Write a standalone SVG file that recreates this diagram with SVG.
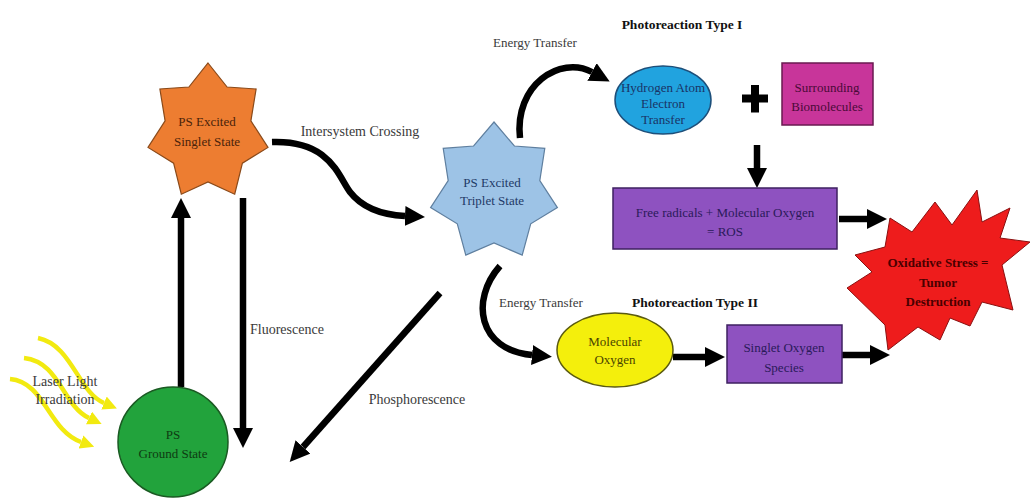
<svg xmlns="http://www.w3.org/2000/svg" width="1030" height="501" viewBox="0 0 1030 501">
<style>
text{font-family:"Liberation Serif","Times New Roman",serif;font-size:13px;text-anchor:middle}
.lbl{fill:#3a3a3a;font-size:14px}
.lbl-s{fill:#3a3a3a;font-size:13px}
.lbl-l{fill:#3a3a3a;text-anchor:start;font-size:14px}
.title{font-weight:bold;fill:#111;font-size:13.5px}
.arrow{fill:none;stroke:#000;stroke-width:6.5}
.yarrow{fill:none;stroke:#f2ea10;stroke-width:4.5}
</style>
<defs>
<marker id="ah" viewBox="0 0 10 10" refX="0" refY="5" markerUnits="userSpaceOnUse" markerWidth="20" markerHeight="20" orient="auto"><path d="M0,0 L10,5 L0,10 z" fill="#000"/></marker>
<marker id="yh" viewBox="0 0 10 10" refX="0" refY="5" markerUnits="userSpaceOnUse" markerWidth="14" markerHeight="14" orient="auto"><path d="M0,0 L10,5 L0,10 z" fill="#f2ea10"/></marker>
</defs>
<rect width="1030" height="501" fill="#fff"/>

<g id="connectors">
<line class="arrow" x1="181" y1="387" x2="181" y2="218" marker-end="url(#ah)"/>
<line class="arrow" x1="243" y1="198" x2="243" y2="428" marker-end="url(#ah)"/>
<line class="arrow" x1="440" y1="293" x2="303" y2="447" marker-end="url(#ah)"/>
<path class="arrow" d="M272,142 C330,140 338,176 350,192 C364,210 385,215 405,216" marker-end="url(#ah)"/>
<path class="arrow" d="M520,138 C514,85 560,55 592,72" marker-end="url(#ah)"/>
<path class="arrow" d="M500,266 C470,300 478,350 532,355" marker-end="url(#ah)"/>
<line class="arrow" x1="757" y1="145" x2="757" y2="168" marker-end="url(#ah)"/>
<line class="arrow" x1="839" y1="219" x2="867" y2="219" marker-end="url(#ah)"/>
<line class="arrow" x1="673" y1="357" x2="705" y2="357" marker-end="url(#ah)"/>
<line class="arrow" x1="842" y1="355" x2="870" y2="355" marker-end="url(#ah)"/>
<path class="yarrow" d="M38,338 C72,345 78,392 104,403" marker-end="url(#yh)"/>
<path class="yarrow" d="M24,358 C60,362 62,405 89,418" marker-end="url(#yh)"/>
<path class="yarrow" d="M10,379 C45,382 48,430 81,442" marker-end="url(#yh)"/>
</g>

<g id="labels">
<text class="lbl" x="360" y="136">Intersystem Crossing</text>
<text class="lbl-l" x="250" y="334">Fluorescence</text>
<text class="lbl" x="417" y="404">Phosphorescence</text>
<text class="lbl-s" x="535" y="47">Energy Transfer</text>
<text class="lbl-s" x="541" y="307">Energy Transfer</text>
<text class="title" x="682" y="29">Photoreaction Type I</text>
<text class="title" x="695" y="307">Photoreaction Type II</text>
<text class="lbl" x="65" y="386">Laser Light</text>
<text class="lbl" x="65" y="404">Irradiation</text>
</g>

<g id="singlet">
<polygon points="208,63 227.1,87 256.1,89 250.9,120.9 268,147.4 242.4,163.2 234.7,194.2 208,182 181.3,194.2 173.6,163.2 148,147.4 165.1,120.9 159.9,89 188.9,87" fill="#ed7d31" stroke="#8a4a1a" stroke-width="1.2"/>
<text x="207" y="126" fill="#4a230a">PS Excited</text>
<text x="207" y="146" fill="#4a230a">Singlet State</text>
</g>

<g id="triplet">
<polygon points="494,122 514.4,146 544.8,148.4 539.8,180.7 557.4,207.6 530.7,223.8 522.2,255.1 494,243 465.8,255.1 457.3,223.8 430.6,207.6 448.2,180.7 443.2,148.4 473.6,146" fill="#9dc3e6" stroke="#5f7f9f" stroke-width="1.2"/>
<text x="492" y="187" fill="#1f3a66">PS Excited</text>
<text x="492" y="205" fill="#1f3a66">Triplet State</text>
</g>

<g id="ground">
<circle cx="173" cy="442" r="55" fill="#22a33c" stroke="#1a5a22" stroke-width="1.5"/>
<text x="173" y="439" fill="#0e3b12">PS</text>
<text x="173" y="458" fill="#0e3b12">Ground State</text>
</g>

<g id="hydrogen">
<ellipse cx="663" cy="100" rx="48" ry="34" fill="#21a3df" stroke="#1d4f7a" stroke-width="1.5"/>
<text x="663" y="92" fill="#1a3366">Hydrogen Atom</text>
<text x="663" y="108" fill="#1a3366">Electron</text>
<text x="663" y="124" fill="#1a3366">Transfer</text>
</g>

<g id="plus">
<path d="M751,85 h8 v9.5 h9 v8 h-9 v10 h-8 v-10 h-9 v-8 h9 z" fill="#000"/>
</g>

<g id="biomolecules">
<rect x="782" y="63" width="91" height="62" fill="#c8359a" stroke="#6a1a50" stroke-width="1.5"/>
<text x="827" y="92" fill="#4a0a38">Surrounding</text>
<text x="827" y="111" fill="#4a0a38">Biomolecules</text>
</g>

<g id="ros">
<rect x="613" y="188" width="224" height="61" fill="#8e52c0" stroke="#3e2060" stroke-width="1.5"/>
<text x="725" y="217" fill="#2a1a5a">Free radicals + Molecular Oxygen</text>
<text x="725" y="236" fill="#2a1a5a">= ROS</text>
</g>

<g id="oxygen">
<ellipse cx="615" cy="350" rx="58" ry="37" fill="#f4ef0c" stroke="#5a5a10" stroke-width="1.5"/>
<text x="615" y="346" fill="#4a4400">Molecular</text>
<text x="615" y="364" fill="#4a4400">Oxygen</text>
</g>

<g id="singletoxygen">
<rect x="727" y="325" width="115" height="58" fill="#8e52c0" stroke="#3e2060" stroke-width="1.5"/>
<text x="784" y="352" fill="#2a1a5a">Singlet Oxygen</text>
<text x="784" y="372" fill="#2a1a5a">Species</text>
</g>

<g id="tumor">
<polygon points="890,218 912,232 935,202 952,225 977,190 982,222 1010,208 1000,238 1030,242 1002,265 1013,310 982,302 970,326 950,318 940,340 918,327 888,350 885,325 847,288 872,272 855,255 885,247" fill="#ee1c1c" stroke="#8a1010" stroke-width="1"/>
<text x="938" y="267" fill="#4a0000" font-weight="bold">Oxidative Stress =</text>
<text x="938" y="287" fill="#4a0000" font-weight="bold">Tumor</text>
<text x="938" y="306" fill="#4a0000" font-weight="bold">Destruction</text>
</g>
</svg>
